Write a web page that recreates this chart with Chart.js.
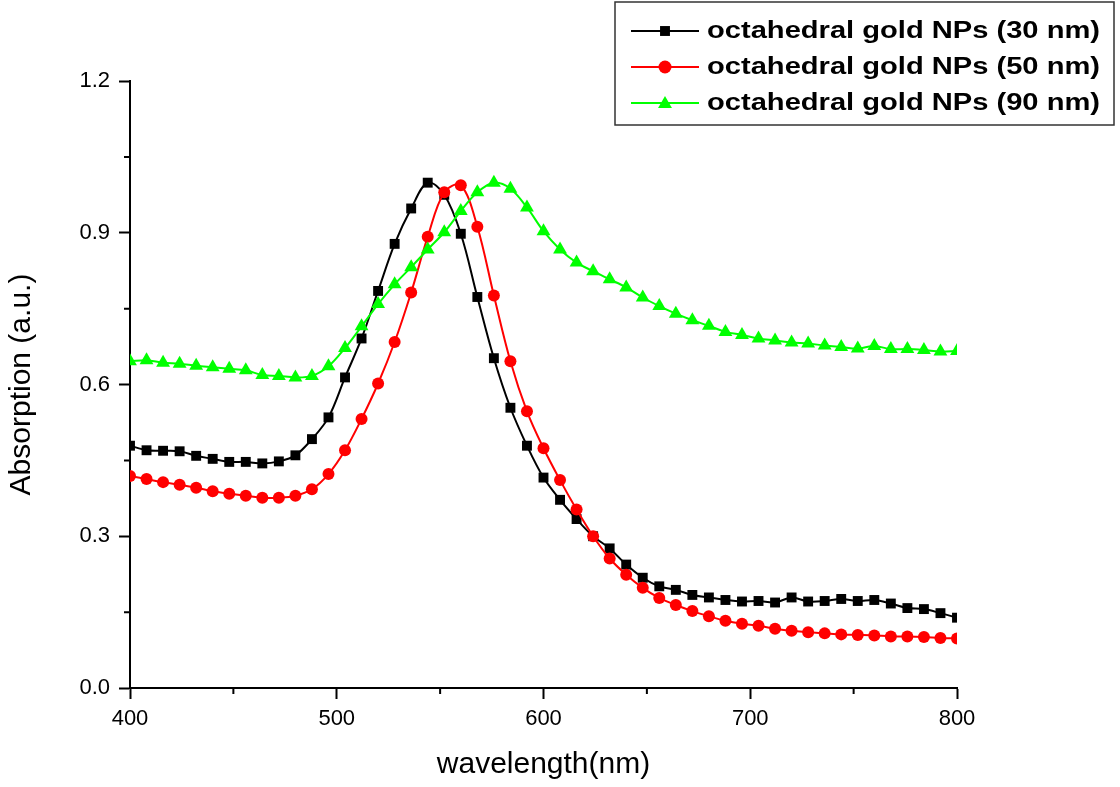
<!DOCTYPE html>
<html lang="en">
<head>
    <meta charset="UTF-8">
    <title>Absorption spectra</title>
    <style>
      body { margin: 0; background: #fff; }
      #wrap { width: 1120px; height: 787px; }
    </style>
</head>
<body>
    <div id="wrap">
        <canvas id="myChart" width="1120" height="787"></canvas>
    </div>

    <script src="https://cdn.jsdelivr.net/npm/chart.js"></script>

    <script>
      // wavelength (nm), one marker every 8 nm
      const wavelengths = [400, 408, 416, 424, 432, 440, 448, 456, 464, 472, 480, 488, 496, 504, 512, 520, 528, 536, 544, 552,
        560, 568, 576, 584, 592, 600, 608, 616, 624, 632, 640, 648, 656, 664, 672, 680, 688, 696, 704, 712,
        720, 728, 736, 744, 752, 760, 768, 776, 784, 792, 800];

      const np30 = [0.479, 0.470, 0.469, 0.468, 0.459, 0.453, 0.447, 0.447, 0.444, 0.448, 0.460, 0.492, 0.535, 0.614, 0.691, 0.785, 0.878, 0.948, 0.999, 0.975,
        0.898, 0.773, 0.652, 0.554, 0.479, 0.416, 0.372, 0.334, 0.300, 0.276, 0.244, 0.218, 0.201, 0.194, 0.184, 0.179, 0.174, 0.171, 0.172, 0.169,
        0.179, 0.171, 0.172, 0.176, 0.172, 0.174, 0.167, 0.158, 0.156, 0.148, 0.139];

      const np50 = [0.419, 0.413, 0.407, 0.402, 0.396, 0.389, 0.384, 0.380, 0.376, 0.376, 0.380, 0.393, 0.423, 0.470, 0.532, 0.602, 0.684, 0.782, 0.892, 0.980,
        0.994, 0.912, 0.776, 0.646, 0.547, 0.474, 0.411, 0.353, 0.300, 0.256, 0.224, 0.198, 0.178, 0.164, 0.152, 0.142, 0.133, 0.127, 0.123, 0.117,
        0.113, 0.110, 0.108, 0.106, 0.105, 0.104, 0.102, 0.102, 0.101, 0.099, 0.098];

      const np90 = [0.646, 0.648, 0.643, 0.641, 0.637, 0.634, 0.631, 0.628, 0.619, 0.617, 0.614, 0.617, 0.636, 0.672, 0.715, 0.759, 0.798, 0.832, 0.867, 0.901,
        0.943, 0.980, 0.999, 0.987, 0.950, 0.903, 0.867, 0.841, 0.824, 0.808, 0.792, 0.772, 0.755, 0.740, 0.727, 0.716, 0.704, 0.698, 0.691, 0.687,
        0.683, 0.681, 0.677, 0.674, 0.671, 0.676, 0.670, 0.670, 0.668, 0.665, 0.666];

      const seriesLabels = ['octahedral gold NPs (30 nm)', 'octahedral gold NPs (50 nm)', 'octahedral gold NPs (90 nm)'];
      const xMinorTicks = [450, 550, 650, 750];
      const yMinorTicks = [0.15, 0.45, 0.75, 1.05];

      const FONT = "'Liberation Sans', Arial, sans-serif";

      const toPoints = (ys) => wavelengths.map((x, i) => ({ x: x, y: ys[i] }));

      const mkSet = (label, ys, color, style, radius, order) => ({
        label: label,
        data: toPoints(ys),
        borderColor: color,
        backgroundColor: color,
        borderWidth: 2,
        pointStyle: style,
        pointRadius: radius,
        pointHoverRadius: radius,
        pointBorderWidth: 0,
        tension: 0.35,
        clip: 0,
        order: order
      });

      // minor ticks + boxed legend with line-through markers
      const extras = {
        id: 'extras',
        afterDraw(chart) {
          const ctx = chart.ctx;
          const xs = chart.scales.x, ys = chart.scales.y;
          const area = chart.chartArea;
          ctx.save();
          ctx.strokeStyle = '#000';
          ctx.lineWidth = 2;
          ctx.beginPath();
          xMinorTicks.forEach(v => {
            const px = xs.getPixelForValue(v);
            ctx.moveTo(px, area.bottom);
            ctx.lineTo(px, area.bottom + 6);
          });
          yMinorTicks.forEach(v => {
            const py = ys.getPixelForValue(v);
            ctx.moveTo(area.left, py);
            ctx.lineTo(area.left - 6, py);
          });
          ctx.stroke();

          // legend
          const bx = 615, by = 2, bw = 499, bh = 123;
          ctx.fillStyle = '#fff';
          ctx.fillRect(bx, by, bw, bh);
          ctx.lineWidth = 1.5;
          ctx.strokeStyle = '#333';
          ctx.strokeRect(bx, by, bw, bh);
          ctx.font = "bold 23px " + FONT;
          ctx.textBaseline = 'middle';
          ctx.textAlign = 'left';
          const radii = { rect: 7, circle: 6.5, triangle: 8 };
          chart.data.datasets.forEach((ds, i) => {
            const cy = 31 + i * 36;
            ctx.strokeStyle = ds.borderColor;
            ctx.lineWidth = 2;
            ctx.beginPath();
            ctx.moveTo(631, cy);
            ctx.lineTo(699, cy);
            ctx.stroke();
            ctx.fillStyle = ds.backgroundColor;
            Chart.helpers.drawPoint(ctx, { pointStyle: ds.pointStyle, radius: radii[ds.pointStyle], rotation: 0, borderWidth: 0 }, 665, cy + (ds.pointStyle === 'triangle' ? 1 : 0));
            ctx.fillStyle = '#000';
            // the original lettering is wider than Arial: stretch to the same width
            const w = ctx.measureText(ds.label).width;
            ctx.save();
            ctx.translate(707, cy + 1);
            ctx.scale(393 / w, 1);
            ctx.fillText(ds.label, 0, 0);
            ctx.restore();
          });
          ctx.restore();
        }
      };

      const ctx = document.getElementById('myChart');

      new Chart(ctx, {
        type: 'line',
        data: {
          datasets: [
            mkSet(seriesLabels[0], np30, '#000000', 'rect', 7, 2),
            mkSet(seriesLabels[1], np50, '#ff0000', 'circle', 6, 1),
            mkSet(seriesLabels[2], np90, '#00ff00', 'triangle', 8, 0)
          ]
        },
        options: {
          responsive: false,
          animation: false,
          events: [],
          layout: { padding: { top: 81, right: 163, left: 0, bottom: 0 } },
          plugins: {
            legend: { display: false },
            tooltip: { enabled: false }
          },
          scales: {
            x: {
              type: 'linear',
              min: 400,
              max: 800,
              afterFit: (s) => { s.height = 787 - 688; },
              border: { display: true, color: '#000', width: 2 },
              grid: { display: true, drawOnChartArea: false, drawTicks: true, tickLength: 11, tickColor: '#000', tickWidth: 2 },
              ticks: { stepSize: 100, color: '#000', padding: 7, font: { family: FONT, size: 22 } },
              title: { display: true, text: 'wavelength(nm)', color: '#000', padding: { top: 6 }, font: { family: FONT, size: 30 } }
            },
            y: {
              min: 0,
              max: 1.2,
              afterFit: (s) => { s.width = 130; },
              border: { display: true, color: '#000', width: 2 },
              grid: { display: true, drawOnChartArea: false, drawTicks: true, tickLength: 11, tickColor: '#000', tickWidth: 2 },
              ticks: { stepSize: 0.3, color: '#000', padding: 9, font: { family: FONT, size: 22 },
                callback: (v) => v.toFixed(1) },
              title: { display: true, text: 'Absorption (a.u.)', color: '#000', padding: { bottom: 4 }, font: { family: FONT, size: 30 } }
            }
          }
        },
        plugins: [extras]
      });
    </script>
</body>
</html>
